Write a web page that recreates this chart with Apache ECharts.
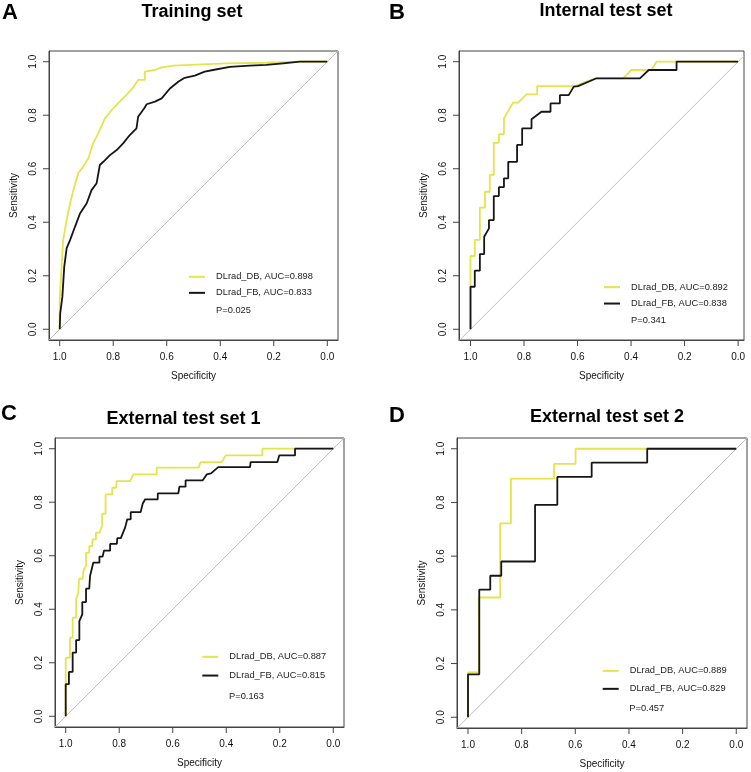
<!DOCTYPE html>
<html lang="en">
  <head>
    <meta charset="utf-8" />
    <script type="text/javascript" src="https://cdn.jsdelivr.net/npm/echarts@6/dist/echarts.min.js"></script>
    <title>ROC curves</title>
    <style>
      html, body { margin: 0; padding: 0; background: #fff; }
      #chart { width: 751px; height: 772px; }
    </style>
  </head>
  <body>
    <div id="chart"></div>
    <script>
      // panel texts
      var panelTitles = ['Training set', 'Internal test set', 'External test set 1', 'External test set 2']
      var panelLetters = ['A', 'B', 'C', 'D']
      var dbAuc = ['0.898', '0.892', '0.887', '0.889']
      var fbAuc = ['0.833', '0.838', '0.815', '0.829']
      var pValues = ['0.025', '0.341', '0.163', '0.457']
      var tickValues = [0, 0.2, 0.4, 0.6, 0.8, 1.0]

      // A: training set
      var trainDbSpec = [1.0, 1.0, 0.993, 0.987, 0.974, 0.961, 0.949, 0.943, 0.931, 0.912, 0.893, 0.875, 0.856, 0.831, 0.800, 0.781, 0.750, 0.723, 0.707, 0.682, 0.682, 0.644, 0.622, 0.576, 0.377, 0.228, 0.103, 0.0]
      var trainDbSens = [0.0, 0.109, 0.234, 0.334, 0.408, 0.471, 0.520, 0.539, 0.583, 0.608, 0.639, 0.695, 0.732, 0.788, 0.826, 0.845, 0.876, 0.907, 0.932, 0.932, 0.963, 0.969, 0.978, 0.985, 0.994, 0.996, 1.0, 1.0]
      var trainFbSpec = [1.0, 0.998, 0.990, 0.983, 0.974, 0.961, 0.943, 0.924, 0.899, 0.881, 0.862, 0.850, 0.837, 0.812, 0.787, 0.763, 0.738, 0.713, 0.707, 0.684, 0.675, 0.644, 0.619, 0.588, 0.557, 0.533, 0.495, 0.458, 0.427, 0.364, 0.290, 0.228, 0.165, 0.103, 0.0]
      var trainFbSens = [0.0, 0.060, 0.122, 0.234, 0.303, 0.334, 0.383, 0.433, 0.471, 0.520, 0.546, 0.614, 0.626, 0.651, 0.670, 0.695, 0.726, 0.751, 0.794, 0.826, 0.841, 0.851, 0.863, 0.900, 0.925, 0.940, 0.948, 0.963, 0.969, 0.981, 0.985, 0.988, 0.994, 1.0, 1.0]

      // B: internal test set
      var internalDbSpec = [1.0, 1.0, 0.984, 0.984, 0.965, 0.965, 0.946, 0.946, 0.928, 0.928, 0.913, 0.913, 0.894, 0.894, 0.875, 0.875, 0.841, 0.822, 0.791, 0.751, 0.751, 0.610, 0.535, 0.430, 0.399, 0.324, 0.305, 0.0]
      var internalDbSens = [0.0, 0.274, 0.274, 0.334, 0.334, 0.455, 0.455, 0.514, 0.514, 0.577, 0.577, 0.697, 0.697, 0.729, 0.729, 0.788, 0.847, 0.847, 0.878, 0.878, 0.909, 0.909, 0.938, 0.938, 0.969, 0.969, 1.0, 1.0]
      var internalFbSpec = [1.0, 1.0, 0.984, 0.984, 0.965, 0.965, 0.949, 0.949, 0.931, 0.931, 0.913, 0.913, 0.894, 0.894, 0.875, 0.875, 0.859, 0.859, 0.826, 0.826, 0.807, 0.807, 0.772, 0.772, 0.735, 0.701, 0.701, 0.666, 0.666, 0.633, 0.614, 0.598, 0.529, 0.367, 0.334, 0.230, 0.230, 0.0]
      var internalFbSens = [0.0, 0.159, 0.159, 0.219, 0.219, 0.281, 0.281, 0.346, 0.377, 0.408, 0.408, 0.498, 0.498, 0.531, 0.531, 0.564, 0.564, 0.626, 0.626, 0.689, 0.689, 0.751, 0.751, 0.785, 0.813, 0.813, 0.844, 0.844, 0.875, 0.875, 0.907, 0.909, 0.938, 0.938, 0.969, 0.969, 1.0, 1.0]

      // C: external test set 1
      var ext1DbSpec = [1.0, 1.0, 0.984, 0.984, 0.974, 0.974, 0.961, 0.961, 0.953, 0.950, 0.936, 0.934, 0.924, 0.924, 0.912, 0.912, 0.900, 0.900, 0.887, 0.887, 0.874, 0.864, 0.864, 0.851, 0.851, 0.826, 0.826, 0.812, 0.809, 0.760, 0.747, 0.660, 0.660, 0.504, 0.496, 0.417, 0.402, 0.265, 0.265, 0.0]
      var ext1DbSens = [0.0, 0.219, 0.219, 0.294, 0.294, 0.369, 0.369, 0.437, 0.462, 0.514, 0.514, 0.543, 0.562, 0.611, 0.611, 0.636, 0.636, 0.661, 0.661, 0.686, 0.686, 0.711, 0.757, 0.757, 0.829, 0.829, 0.854, 0.854, 0.879, 0.879, 0.904, 0.904, 0.929, 0.929, 0.950, 0.950, 0.975, 0.975, 1.0, 1.0]
      var ext1FbSpec = [1.0, 1.0, 0.988, 0.988, 0.974, 0.974, 0.961, 0.961, 0.949, 0.949, 0.938, 0.938, 0.924, 0.924, 0.912, 0.909, 0.897, 0.874, 0.874, 0.862, 0.857, 0.834, 0.834, 0.809, 0.807, 0.794, 0.778, 0.770, 0.757, 0.757, 0.720, 0.712, 0.703, 0.656, 0.656, 0.579, 0.575, 0.552, 0.552, 0.488, 0.473, 0.457, 0.430, 0.311, 0.309, 0.209, 0.202, 0.143, 0.143, 0.0]
      var ext1FbSens = [0.0, 0.120, 0.120, 0.166, 0.166, 0.238, 0.238, 0.285, 0.285, 0.356, 0.381, 0.427, 0.427, 0.477, 0.477, 0.524, 0.574, 0.574, 0.597, 0.597, 0.619, 0.619, 0.644, 0.644, 0.666, 0.666, 0.705, 0.736, 0.736, 0.763, 0.763, 0.795, 0.811, 0.811, 0.833, 0.833, 0.858, 0.858, 0.882, 0.882, 0.904, 0.908, 0.931, 0.931, 0.950, 0.950, 0.975, 0.975, 1.0, 1.0]

      // D: external test set 2
      var ext2DbSpec = [1.0, 1.0, 0.960, 0.960, 0.880, 0.880, 0.840, 0.840, 0.679, 0.679, 0.599, 0.599, 0.0]
      var ext2DbSens = [0.0, 0.167, 0.167, 0.446, 0.446, 0.722, 0.722, 0.889, 0.889, 0.944, 0.944, 1.0, 1.0]
      var ext2FbSpec = [1.0, 1.0, 0.958, 0.958, 0.917, 0.917, 0.876, 0.876, 0.750, 0.750, 0.667, 0.667, 0.539, 0.539, 0.332, 0.332, 0.0]
      var ext2FbSens = [0.0, 0.160, 0.160, 0.475, 0.475, 0.527, 0.527, 0.580, 0.580, 0.791, 0.791, 0.895, 0.895, 0.948, 0.948, 1.0, 1.0]

      var dbCurves = [[trainDbSpec, trainDbSens], [internalDbSpec, internalDbSens], [ext1DbSpec, ext1DbSens], [ext2DbSpec, ext2DbSens]]
      var fbCurves = [[trainFbSpec, trainFbSens], [internalFbSpec, internalFbSens], [ext1FbSpec, ext1FbSens], [ext2FbSpec, ext2FbSens]]

      // page layout of each panel (pixels) and axis extents
      var layout = [
        { left: 49, top: 51, width: 289, height: 289, xMin: -0.04, xMax: 1.04, titleX: 192, titleY: 12, letterX: 2, letterY: 13, legX: 189, row1: 277, row2: 293.3, pY: 310, textX: 216 },
        { left: 459, top: 51, width: 285, height: 289, xMin: -0.022, xMax: 1.043, titleX: 606, titleY: 11, letterX: 389, letterY: 12.5, legX: 604, row1: 287.3, row2: 304, pY: 320.7, textX: 631 },
        { left: 55, top: 438, width: 289, height: 289, xMin: -0.04, xMax: 1.04, titleX: 183.5, titleY: 419, letterX: 1, letterY: 413.5, legX: 202.3, row1: 657, row2: 676, pY: 696, textX: 229 },
        { left: 457, top: 438, width: 290, height: 290, xMin: -0.04, xMax: 1.041, titleX: 607, titleY: 417, letterX: 389, letterY: 415.5, legX: 602.7, row1: 671, row2: 689.3, pY: 708.7, textX: 629.3 }
      ]
      var Y_MIN = -0.04
      var Y_MAX = 1.04

      var FONT = '"Liberation Sans", Arial, sans-serif'
      var YELLOW = '#e4e44c'
      var BLACK = '#161616'
      var AXIS_GREY = '#444'
      var LEG_FONT = 9.3
      var TICK_LEN = 6

      function zip (xs, ys) {
        return xs.map(function (x, i) { return [x, ys[i]] })
      }

      function oneDecimal (v) {
        return v.toFixed(1)
      }

      // outward tick marks drawn through the axis scales (dx, dy = direction)
      function tickRenderer (dx, dy) {
        return function (params, api) {
          var p = api.coord([api.value(0), api.value(1)])
          return {
            type: 'line',
            shape: { x1: p[0], y1: p[1], x2: p[0] + dx * TICK_LEN, y2: p[1] + dy * TICK_LEN },
            style: { stroke: AXIS_GREY, lineWidth: 1 }
          }
        }
      }

      window.onload = function () {
        var chart = echarts.init(document.getElementById('chart'))
        var grids = [], xAxes = [], yAxes = [], series = [], legends = [], graphics = []

        layout.forEach(function (L, i) {
          var dbName = 'DLrad_DB, AUC=' + dbAuc[i]
          var fbName = 'DLrad_FB, AUC=' + fbAuc[i]
          grids.push({ left: L.left, top: L.top, width: L.width, height: L.height, show: true, borderColor: AXIS_GREY, borderWidth: 1 })
          xAxes.push({
            type: 'value', gridIndex: i, position: 'bottom', inverse: true, min: L.xMin, max: L.xMax,
            name: 'Specificity', nameLocation: 'middle', nameGap: 31,
            nameTextStyle: { fontSize: 10, color: '#111', fontFamily: FONT },
            axisLine: { show: true, onZero: false, lineStyle: { color: AXIS_GREY } },
            axisTick: { show: false },
            axisLabel: { customValues: tickValues, margin: 12, fontSize: 10, color: '#111', fontFamily: FONT, formatter: oneDecimal },
            splitLine: { show: false }
          })
          yAxes.push({
            type: 'value', gridIndex: i, position: 'left', min: Y_MIN, max: Y_MAX,
            name: 'Sensitivity', nameLocation: 'middle', nameGap: 30,
            nameTextStyle: { fontSize: 10, color: '#111', fontFamily: FONT },
            axisLine: { show: true, onZero: false, lineStyle: { color: AXIS_GREY } },
            axisTick: { show: false },
            axisLabel: { customValues: tickValues, rotate: 90, margin: 11, fontSize: 10, color: '#111', fontFamily: FONT, formatter: oneDecimal },
            splitLine: { show: false }
          })
          // tick marks below the bottom edge and left of the left edge
          series.push({
            type: 'custom', xAxisIndex: i, yAxisIndex: i, silent: true, clip: false,
            data: tickValues.map(function (v) { return [v, Y_MIN] }),
            renderItem: tickRenderer(0, 1)
          })
          series.push({
            type: 'custom', xAxisIndex: i, yAxisIndex: i, silent: true, clip: false,
            data: tickValues.map(function (v) { return [L.xMax, v] }),
            renderItem: tickRenderer(-1, 0)
          })
          series.push({
            type: 'line', xAxisIndex: i, yAxisIndex: i, symbol: 'none', silent: true,
            data: [[L.xMax, 1 - L.xMax], [L.xMin, 1 - L.xMin]],
            lineStyle: { color: '#bdbdbd', width: 1 }
          })
          series.push({
            name: dbName, type: 'line', xAxisIndex: i, yAxisIndex: i, symbol: 'none',
            data: zip(dbCurves[i][0], dbCurves[i][1]),
            lineStyle: { color: YELLOW, width: 1.8 }, itemStyle: { color: YELLOW }
          })
          series.push({
            name: fbName, type: 'line', xAxisIndex: i, yAxisIndex: i, symbol: 'none',
            data: zip(fbCurves[i][0], fbCurves[i][1]),
            lineStyle: { color: BLACK, width: 1.8 }, itemStyle: { color: BLACK }
          })
          // legend rows: thin rect icon, text height ~ font size
          legends.push({
            data: [dbName, fbName], orient: 'vertical', left: L.legX, top: L.row1 - LEG_FONT / 2,
            icon: 'rect', itemWidth: 16, itemHeight: 2, itemGap: (L.row2 - L.row1) - LEG_FONT,
            selectedMode: false, padding: 0,
            textStyle: { fontSize: LEG_FONT, color: '#222', fontFamily: FONT, padding: [0, 0, 0, 6] }
          })
          graphics.push({ type: 'text', x: L.textX, y: L.pY, style: { text: 'P=' + pValues[i], fontSize: LEG_FONT, fill: '#222', fontFamily: FONT, verticalAlign: 'middle' } })
          graphics.push({ type: 'text', x: L.titleX, y: L.titleY, style: { text: panelTitles[i], fontSize: 18, fontWeight: 'bold', fill: '#000', fontFamily: FONT, align: 'center', verticalAlign: 'middle' } })
          graphics.push({ type: 'text', x: L.letterX, y: L.letterY, style: { text: panelLetters[i], fontSize: 22, fontWeight: 'bold', fill: '#000', fontFamily: FONT, verticalAlign: 'middle' } })
        })

        chart.setOption({
          animation: false,
          backgroundColor: '#fff',
          grid: grids,
          xAxis: xAxes,
          yAxis: yAxes,
          legend: legends,
          series: series,
          graphic: graphics
        })
      }
    </script>
  </body>
</html>
